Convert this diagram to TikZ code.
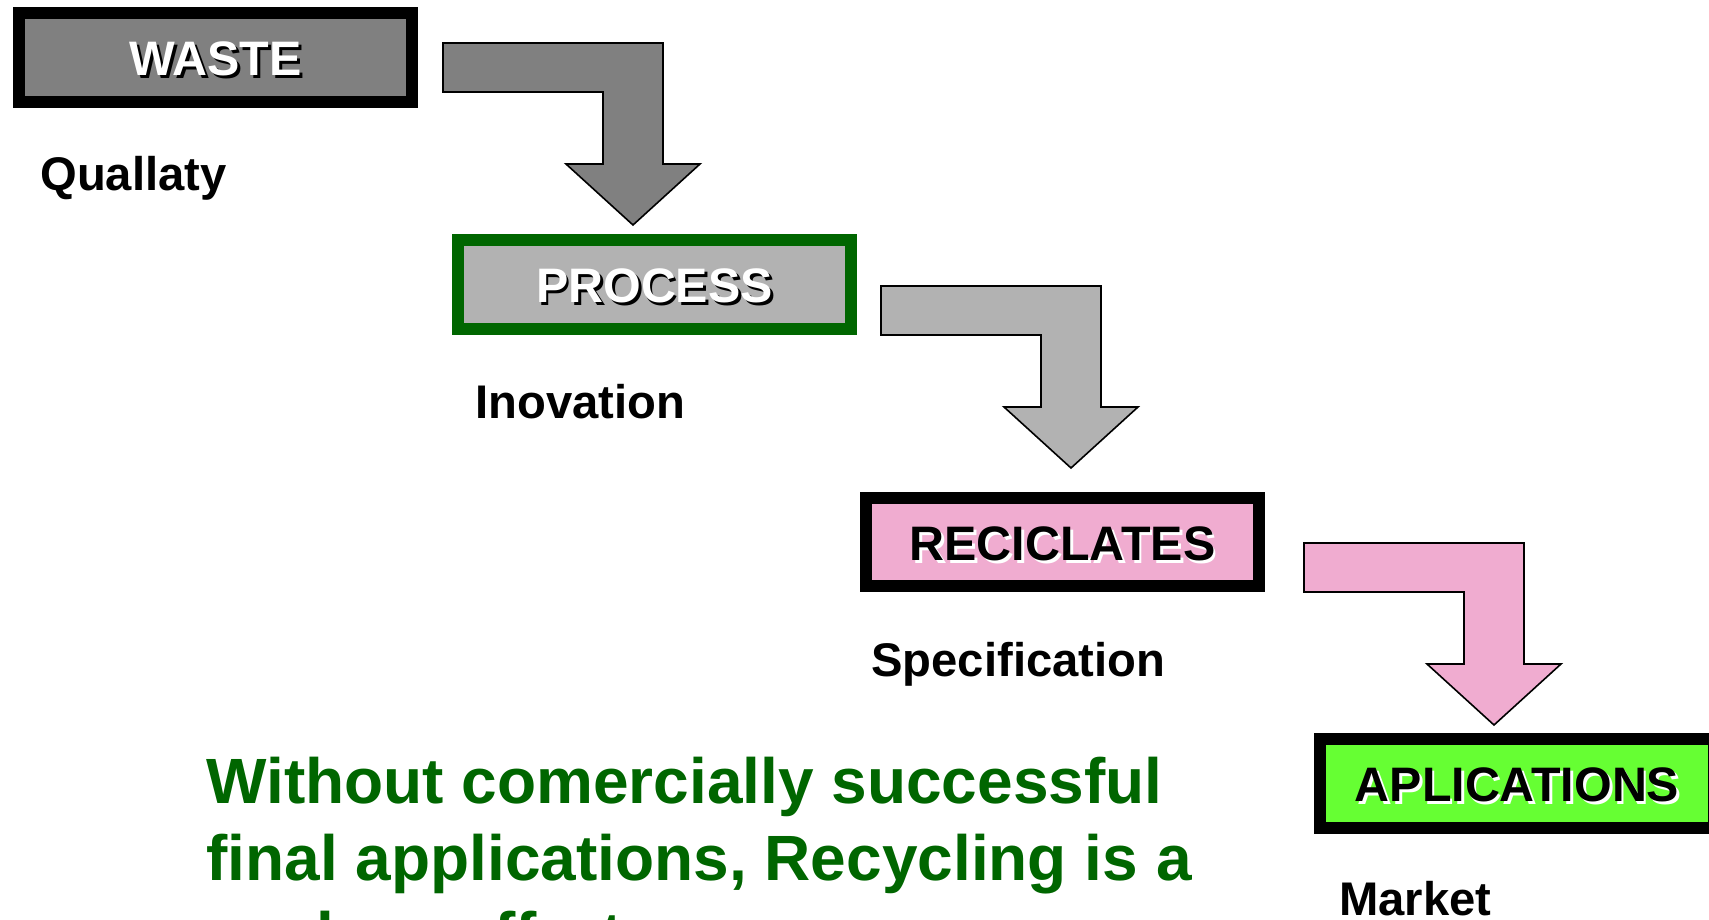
\documentclass[tikz,border=0pt]{standalone}
\usepackage{fontspec}
\setmainfont{Liberation Sans}
\definecolor{wastegray}{HTML}{808080}
\definecolor{procgray}{HTML}{B2B2B2}
\definecolor{procgreen}{HTML}{006600}
\definecolor{recpink}{HTML}{F0ACD0}
\definecolor{appgreen}{HTML}{66FF33}
\definecolor{msggreen}{HTML}{006600}
\newcommand\shadowtxt[3]{\raisebox{-9.2pt}[0pt][0pt]{\makebox[0pt][l]{\hspace{1.4pt}\raisebox{-1.4pt}{\textcolor{#2}{#3}}}\textcolor{#1}{#3}}}
\tikzset{
  stagebox/.style={draw=black, line width=6pt, minimum width=196.5pt, minimum height=44.5pt,
    inner sep=0pt, font=\bfseries\fontsize{24.2}{28}\selectfont},
  steplabel/.style={anchor=base west, inner sep=0pt, font=\bfseries\fontsize{23.6}{28}\selectfont},
  msgline/.style={anchor=base west, inner sep=0pt, text=msggreen, font=\bfseries\fontsize{32}{38}\selectfont},
  blockarrow/.style={draw=black, line width=0.8pt, line join=miter}
}
\begin{document}
\begin{tikzpicture}[x=0.5pt, y=-0.5pt]
\clip (0,0) rectangle (1709,920);
\fill[white] (0,0) rectangle (1709,920);

% boxes
\node[stagebox, fill=wastegray] (waste) at (215.5,57.5) {\shadowtxt{white}{black}{WASTE}};
\node[stagebox, draw=procgreen, fill=procgray] (process) at (654.5,284.5) {\shadowtxt{white}{black}{PROCESS}};
\node[stagebox, fill=recpink, minimum height=44pt] (reciclates) at (1062.5,542) {\shadowtxt{black}{white}{RECICLATES}};
\node[stagebox, fill=appgreen, minimum width=197pt] (aplications) at (1517,783.5) {\shadowtxt{black}{white}{APLICATIONS}};

% labels
\node[steplabel] (quallaty) at (40,191) {Quallaty};
\node[steplabel] (inovation) at (475,418) {Inovation};
\node[steplabel] (specification) at (871,676) {Specification};
\node[steplabel] (market) at (1339,915) {Market};

% block arrows
\coordinate (a1) at (443,43);
\coordinate (a2) at (881,286);
\coordinate (a3) at (1304,543);
\draw[blockarrow, fill=wastegray] (a1) -- ++(220,0) -- ++(0,121) -- ++(37,0) -- ++(-67,61) -- ++(-67,-61) -- ++(37,0) -- ++(0,-72) -- ++(-160,0) -- cycle;
\draw[blockarrow, fill=procgray] (a2) -- ++(220,0) -- ++(0,121) -- ++(37,0) -- ++(-67,61) -- ++(-67,-61) -- ++(37,0) -- ++(0,-72) -- ++(-160,0) -- cycle;
\draw[blockarrow, fill=recpink] (a3) -- ++(220,0) -- ++(0,121) -- ++(37,0) -- ++(-67,61) -- ++(-67,-61) -- ++(37,0) -- ++(0,-72) -- ++(-160,0) -- cycle;

% message
\node[msgline] (msg1) at (206,803) {Without comercially successful};
\node[msgline] (msg2) at (206,880) {final applications, Recycling is a};
\node[msgline] (msg3) at (206,957) {useless effort};
\end{tikzpicture}
\end{document}
